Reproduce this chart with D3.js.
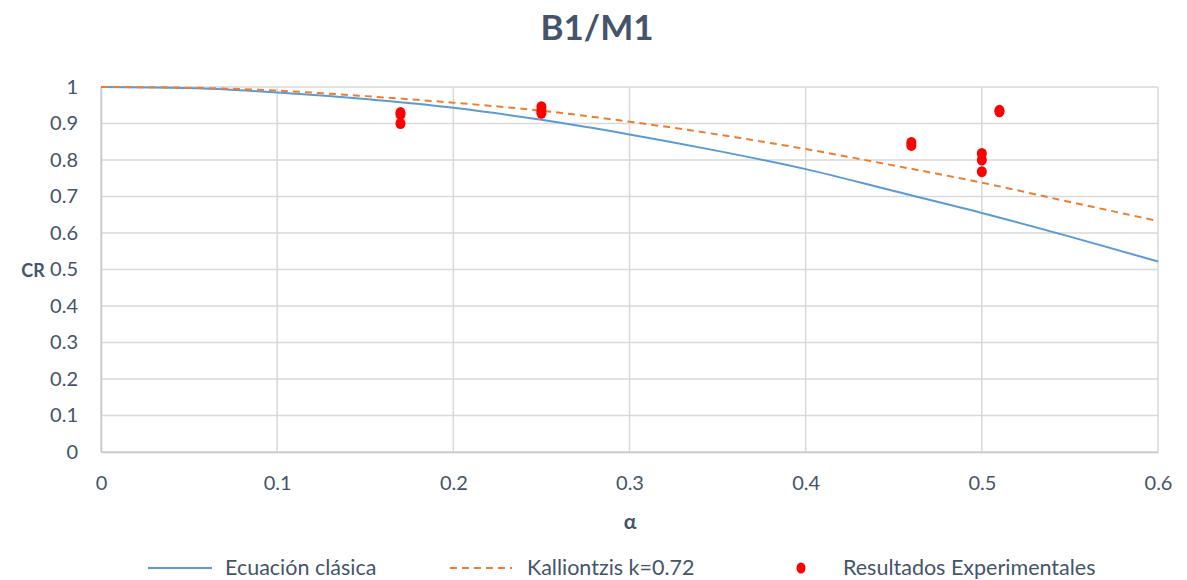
<!DOCTYPE html>
<html>
<head>
<meta charset="utf-8">
<script src="https://cdn.jsdelivr.net/npm/d3@7"></script>
<style>
  html, body { margin: 0; padding: 0; background: #fff; }
  svg { display: block; font-family: Lato, "Open Sans", sans-serif; }
</style>
</head>
<body>
<svg id="chart" width="1187" height="580"></svg>
<script>
// Curve samples along alpha
const alphaSamples = [0, 0.05, 0.1, 0.15, 0.2, 0.25, 0.3, 0.35, 0.4, 0.45, 0.5, 0.55, 0.6];
const crClassic    = [1, 0.997, 0.985, 0.967, 0.943, 0.91, 0.87, 0.825, 0.775, 0.715, 0.655, 0.59, 0.522];
const crKalliontzis = [1, 0.998, 0.99, 0.975, 0.957, 0.935, 0.905, 0.87, 0.83, 0.785, 0.738, 0.685, 0.633];

// Experimental results
const expAlpha = [0.17, 0.17, 0.17, 0.25, 0.25, 0.25, 0.46, 0.46, 0.5, 0.5, 0.5, 0.51, 0.51];
const expCR    = [0.93, 0.925, 0.90, 0.946, 0.935, 0.928, 0.848, 0.84, 0.818, 0.80, 0.768, 0.936, 0.932];

const xTicks = [0, 0.1, 0.2, 0.3, 0.4, 0.5, 0.6];
const yTicks = [0, 0.1, 0.2, 0.3, 0.4, 0.5, 0.6, 0.7, 0.8, 0.9, 1];

const legendLabels = ["Ecuación clásica", "Kalliontzis k=0.72", "Resultados Experimentales"];

const textColor = "#44546a";
const gridColor = "#d9d9d9";
const axisColor = "#c3cad6";
const blue = "#5b9bd5", orange = "#ed7d31", red = "#ff0000";

const svg = d3.select("#chart");
const m = { left: 101, right: 1158, top: 87, bottom: 452 };

const x = d3.scaleLinear().domain([0, 0.6]).range([m.left, m.right]);
const y = d3.scaleLinear().domain([0, 1]).range([m.bottom, m.top]);

// Title
svg.append("text").attr("x", 597).attr("y", 40)
  .attr("text-anchor", "middle").attr("font-size", 35).attr("font-weight", "bold")
  .attr("fill", textColor).text("B1/M1");

// Horizontal gridlines
svg.append("g").selectAll("line").data(yTicks).join("line")
  .attr("x1", m.left).attr("x2", m.right)
  .attr("y1", d => y(d)).attr("y2", d => y(d))
  .attr("stroke", gridColor).attr("stroke-width", 1.5);

// Vertical gridlines
svg.append("g").selectAll("line").data(xTicks).join("line")
  .attr("x1", d => x(d)).attr("x2", d => x(d))
  .attr("y1", m.top).attr("y2", m.bottom)
  .attr("stroke", gridColor).attr("stroke-width", 1.5);

// Axes
const yAxis = d3.axisLeft(y).tickValues(yTicks).tickSize(0).tickPadding(23)
  .tickFormat(d3.format("~g"));
const gy = svg.append("g").attr("transform", `translate(${m.left},0)`).call(yAxis);
gy.select(".domain").attr("stroke", axisColor).attr("stroke-width", 1.5);
gy.selectAll("text").attr("font-size", 20).attr("fill", textColor)
  .attr("font-family", "Lato, 'Open Sans', sans-serif");

const xAxis = d3.axisBottom(x).tickValues(xTicks).tickSize(0).tickPadding(24)
  .tickFormat(d3.format("~g"));
const gx = svg.append("g").attr("transform", `translate(0,${m.bottom})`).call(xAxis);
gx.select(".domain").attr("stroke", axisColor).attr("stroke-width", 1.5);
gx.selectAll("text").attr("font-size", 20).attr("fill", textColor)
  .attr("font-family", "Lato, 'Open Sans', sans-serif");

// Axis titles
svg.append("text").attr("x", 33).attr("y", 277).attr("text-anchor", "middle")
  .attr("font-size", 18).attr("font-weight", "bold").attr("fill", textColor).text("CR");
svg.append("text").attr("x", 630).attr("y", 529).attr("text-anchor", "middle")
  .attr("font-size", 21).attr("font-weight", "bold").attr("fill", textColor).text("α");

// Curves
const line = d3.line().x(d => x(d[0])).y(d => y(d[1])).curve(d3.curveMonotoneX);
svg.append("path").datum(alphaSamples.map((a, i) => [a, crClassic[i]]))
  .attr("d", line).attr("fill", "none").attr("stroke", blue).attr("stroke-width", 2);
svg.append("path").datum(alphaSamples.map((a, i) => [a, crKalliontzis[i]]))
  .attr("d", line).attr("fill", "none").attr("stroke", orange).attr("stroke-width", 2)
  .attr("stroke-dasharray", "7,5");

// Experimental points
svg.append("g").selectAll("ellipse").data(expAlpha.map((a, i) => [a, expCR[i]])).join("ellipse")
  .attr("cx", d => x(d[0])).attr("cy", d => y(d[1]))
  .attr("rx", 5).attr("ry", 5.5).attr("fill", red);

// Legend
const ly = 568;
const lg = svg.append("g");
lg.append("line").attr("x1", 148).attr("x2", 212).attr("y1", ly).attr("y2", ly)
  .attr("stroke", blue).attr("stroke-width", 2);
lg.append("text").attr("x", 225).attr("y", ly + 7).attr("font-size", 21.5)
  .attr("fill", textColor).text(legendLabels[0]);
lg.append("line").attr("x1", 450).attr("x2", 512).attr("y1", ly).attr("y2", ly)
  .attr("stroke", orange).attr("stroke-width", 2).attr("stroke-dasharray", "7,5");
lg.append("text").attr("x", 527).attr("y", ly + 7).attr("font-size", 21.5)
  .attr("fill", textColor).text(legendLabels[1]);
lg.append("ellipse").attr("cx", 801).attr("cy", ly).attr("rx", 4.5).attr("ry", 5.5).attr("fill", red);
lg.append("text").attr("x", 843).attr("y", ly + 7).attr("font-size", 21.5)
  .attr("fill", textColor).text(legendLabels[2]);
</script>
</body>
</html>
